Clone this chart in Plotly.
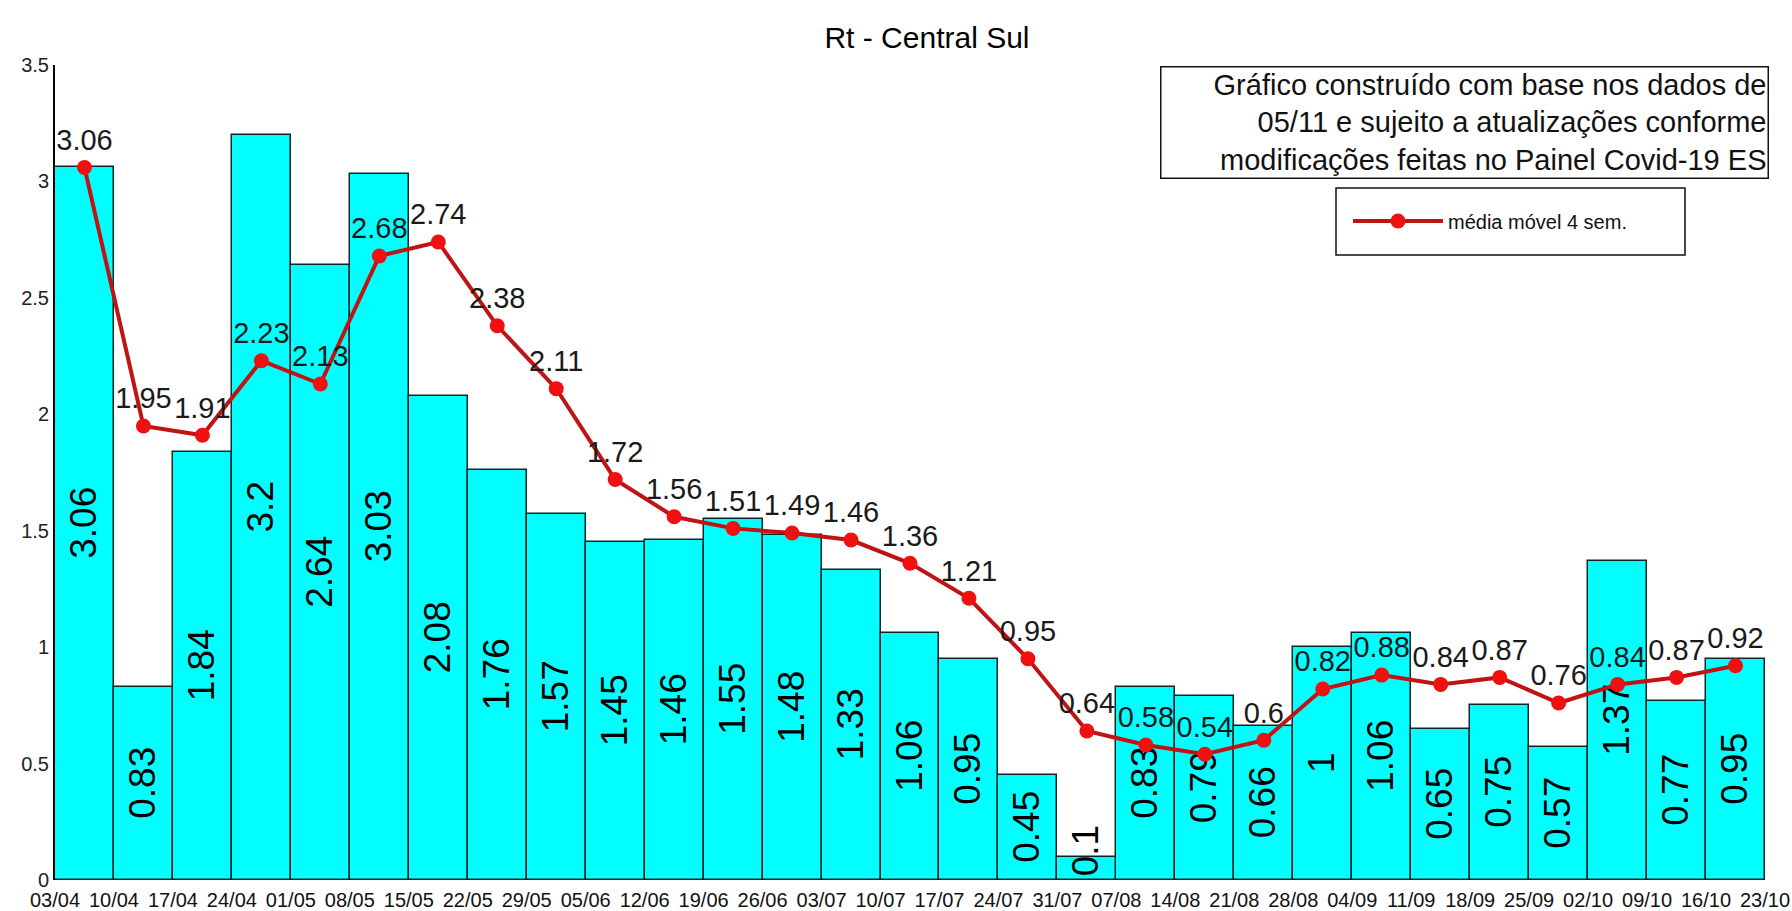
import plotly.graph_objects as go

# semanas (bordas das barras)
semanas = ["03/04", "10/04", "17/04", "24/04", "01/05", "08/05", "15/05", "22/05",
           "29/05", "05/06", "12/06", "19/06", "26/06", "03/07", "10/07", "17/07",
           "24/07", "31/07", "07/08", "14/08", "21/08", "28/08", "04/09", "11/09",
           "18/09", "25/09", "02/10", "09/10", "16/10", "23/10"]

# Rt semanal
rt = [3.06, 0.83, 1.84, 3.2, 2.64, 3.03, 2.08, 1.76, 1.57, 1.45, 1.46, 1.55, 1.48,
      1.33, 1.06, 0.95, 0.45, 0.1, 0.83, 0.79, 0.66, 1, 1.06, 0.65, 0.75, 0.57,
      1.37, 0.77, 0.95]

# média móvel 4 semanas
media = [3.06, 1.95, 1.91, 2.23, 2.13, 2.68, 2.74, 2.38, 2.11, 1.72, 1.56, 1.51,
         1.49, 1.46, 1.36, 1.21, 0.95, 0.64, 0.58, 0.54, 0.6, 0.82, 0.88, 0.84,
         0.87, 0.76, 0.84, 0.87, 0.92]

FONT = "Arial, Liberation Sans, sans-serif"
W, H = 1792, 911
L, R, T, B = 55, 27, 65, 31
PW, PH = W - L - R, H - T - B


def px_x(p):
    return (p - L) / PW


def px_y(p):
    return (H - B - p) / PH


centros = [i + 0.5 for i in range(len(rt))]

# barras muito baixas: rótulo ancorado na base (não cabe no meio)
curta = [v < 0.3 for v in rt]

fig = go.Figure()

for grupo, anchor in ((False, "middle"), (True, "start")):
    xs = [c for c, s in zip(centros, curta) if s == grupo]
    ys = [v for v, s in zip(rt, curta) if s == grupo]
    fig.add_trace(go.Bar(
        x=xs, y=ys, width=1,
        marker=dict(color="#00ffff", line=dict(color="#0b2626", width=1.5)),
        text=[f"{v:g}" for v in ys],
        textposition="inside", insidetextanchor=anchor,
        textangle=-90, constraintext="none",
        textfont=dict(family=FONT, size=37, color="#000000"),
        cliponaxis=False,
        showlegend=False, hoverinfo="skip",
    ))

fig.add_trace(go.Scatter(
    x=centros, y=media, mode="lines+markers+text",
    line=dict(color="#c01414", width=4),
    marker=dict(color="#f01010", size=15),
    text=[f"{v:g}" for v in media],
    textposition="top center",
    textfont=dict(family=FONT, size=29, color="#1a1a1a"),
    name="média móvel 4 sem.",
    cliponaxis=False,
))

fig.update_layout(
    width=W, height=H,
    margin=dict(l=L, r=R, t=T, b=B, autoexpand=False),
    paper_bgcolor="white", plot_bgcolor="white",
    font=dict(family=FONT, color="#111111"),
    bargap=0, barmode="overlay",
    title=dict(text="Rt - Central Sul", x=927 / W, y=1 - 37 / H,
               xanchor="center", yanchor="middle",
               font=dict(family=FONT, size=30, color="#000000")),
    xaxis=dict(range=[0, len(rt)], tickmode="array",
               tickvals=list(range(len(semanas))), ticktext=semanas,
               showgrid=False, zeroline=False, showline=False, ticks="",
               automargin=False,
               tickfont=dict(size=20, color="#111111"), ticklabelstandoff=6),
    yaxis=dict(range=[0, 3.5], tickmode="linear", dtick=0.5, tick0=0,
               showgrid=False, zeroline=False, showline=True, linecolor="#000000",
               linewidth=2, ticks="inside", ticklen=18, tickcolor="#000000",
               tickwidth=2, tickfont=dict(size=20, color="#222222"),
               automargin=False, layer="below traces"),
    showlegend=True,
    legend=dict(x=px_x(1348), y=px_y(221), xanchor="left", yanchor="middle",
                bgcolor="rgba(0,0,0,0)", borderwidth=0, itemwidth=90,
                font=dict(size=20, color="#111111")),
)

fig.add_shape(type="rect", xref="paper", yref="paper",
              x0=px_x(1336), x1=px_x(1685), y0=px_y(255), y1=px_y(188),
              line=dict(color="#111111", width=1.5), fillcolor="white",
              layer="below")

fig.add_annotation(
    xref="paper", yref="paper", x=px_x(1769), y=px_y(66),
    xanchor="right", yanchor="top", showarrow=False,
    text=("Gráfico construído com base nos dados de<br>"
          "05/11 e sujeito a atualizações conforme<br>"
          "modificações feitas no Painel Covid-19 ES"),
    align="right", width=604, height=108,
    bordercolor="#111111", borderwidth=1.5, borderpad=1, bgcolor="white",
    font=dict(family=FONT, size=29, color="#111111"),
)

fig.write_html("out.html", config={"displayModeBar": False},
               post_script="document.body.style.margin='0';"
                           "document.body.style.overflow='hidden';")
